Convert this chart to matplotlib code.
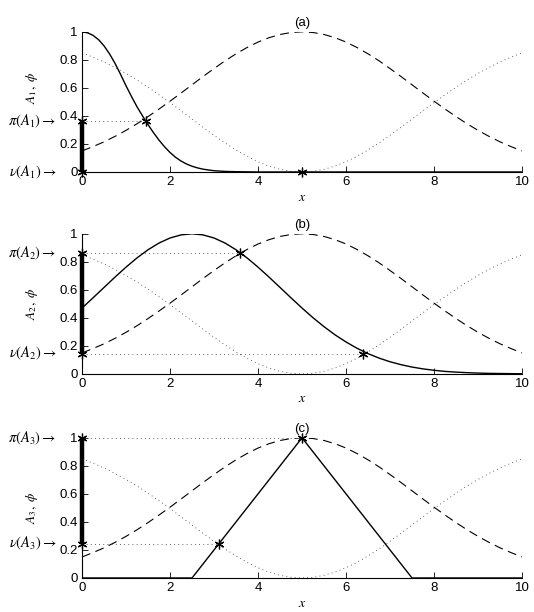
import matplotlib
matplotlib.use('Agg')
import matplotlib.pyplot as plt
import matplotlib.transforms as mtransforms

plt.rcParams['font.family'] = ['Liberation Sans', 'DejaVu Sans']
plt.rcParams['mathtext.fontset'] = 'stix'

# sample grid, step 0.25
x = [i * 0.25 for i in range(41)]

# reference fuzzy set phi (dashed) and its complement (dotted)
phi = [0.150, 0.181, 0.215, 0.254, 0.297, 0.344, 0.395, 0.449, 0.505, 0.563,
       0.622, 0.681, 0.738, 0.793, 0.843, 0.888, 0.927, 0.958, 0.981, 0.995,
       1.000, 0.995, 0.981, 0.958, 0.927, 0.888, 0.843, 0.793, 0.738, 0.681,
       0.622, 0.563, 0.505, 0.449, 0.395, 0.344, 0.297, 0.254, 0.215, 0.181,
       0.150]
not_phi = [0.850, 0.819, 0.785, 0.746, 0.703, 0.656, 0.605, 0.551, 0.495, 0.437,
           0.378, 0.319, 0.262, 0.207, 0.157, 0.112, 0.073, 0.042, 0.019, 0.005,
           0.000, 0.005, 0.019, 0.042, 0.073, 0.112, 0.157, 0.207, 0.262, 0.319,
           0.378, 0.437, 0.495, 0.551, 0.605, 0.656, 0.703, 0.746, 0.785, 0.819,
           0.850]

# A1 (solid, panel a) on a finer grid
a1_x = [0, 0.125, 0.25, 0.375, 0.5, 0.625, 0.75, 0.875, 1.0, 1.125, 1.25,
        1.375, 1.5, 1.625, 1.75, 1.875, 2.0, 2.125, 2.25, 2.375, 2.5, 2.625,
        2.75, 2.875, 3.0, 3.25, 3.5, 3.75, 4.0, 10.0]
a1 = [1.000, 0.993, 0.975, 0.944, 0.900, 0.843, 0.775, 0.697, 0.615, 0.538,
      0.465, 0.400, 0.338, 0.280, 0.227, 0.180, 0.139, 0.105, 0.078, 0.057,
      0.041, 0.029, 0.020, 0.014, 0.009, 0.004, 0.002, 0.001, 0.0, 0.0]
# A2 (solid, panel b)
a2 = [0.470, 0.543, 0.617, 0.691, 0.762, 0.828, 0.886, 0.934, 0.970, 0.992,
      1.000, 0.992, 0.970, 0.934, 0.886, 0.828, 0.762, 0.691, 0.617, 0.543,
      0.470, 0.401, 0.337, 0.279, 0.228, 0.183, 0.145, 0.113, 0.087, 0.066,
      0.049, 0.036, 0.026, 0.018, 0.013, 0.009, 0.006, 0.004, 0.003, 0.002,
      0.001]
# A3 triangle (panel c)
a3_x = [0, 2.5, 5, 7.5, 10]
a3_y = [0, 0, 1, 0, 0]

panels = ['(a)', '(b)', '(c)']
pi_vals = [0.365, 0.86, 1.0]
pi_x = [1.45, 3.59, 5.0]
nu_vals = [0.0, 0.145, 0.245]
nu_x = [5.0, 6.39, 3.12]
ylabels = [r'$A_1,\ \phi$', r'$A_2,\ \phi$', r'$A_3,\ \phi$']
pi_labels = [r'$\pi(A_1)\rightarrow$', r'$\pi(A_2)\rightarrow$', r'$\pi(A_3)\rightarrow$']
nu_labels = [r'$\nu(A_1)\rightarrow$', r'$\nu(A_2)\rightarrow$', r'$\nu(A_3)\rightarrow$']

fig = plt.figure(figsize=(5.34, 6.12), dpi=100)
bottoms = [0.719, 0.389, 0.0556]
axes = [fig.add_axes([0.1536, b, 0.824, 0.229]) for b in bottoms]

star = (6, 2, 0)  # asterisk, matlab style

for i, ax in enumerate(axes):
    ax.plot(x, phi, color='black', lw=0.8, dashes=(8, 5))
    ax.plot(x, not_phi, color='#333333', lw=0.6, linestyle=(0, (1, 4)))
    if i == 0:
        ax.plot(a1_x, a1, color='black', lw=1.0)
    elif i == 1:
        ax.plot(x, a2, color='black', lw=1.0)
    else:
        ax.plot(a3_x, a3_y, color='black', lw=1.0)

    # guide lines from the y axis to the intersection points
    ax.plot([0, pi_x[i]], [pi_vals[i], pi_vals[i]], color='#333333', lw=0.6,
            linestyle=(0, (1, 4)))
    ax.plot([0, nu_x[i]], [nu_vals[i], nu_vals[i]], color='#333333', lw=0.6,
            linestyle=(0, (1, 4)))
    ax.plot([0, 0], [nu_vals[i], pi_vals[i]], color='black', lw=3.2,
            solid_capstyle='butt', clip_on=False, zorder=5)
    ax.plot([0, pi_x[i], 0, nu_x[i]],
            [pi_vals[i], pi_vals[i], nu_vals[i], nu_vals[i]],
            linestyle='none', marker=star, color='black', markersize=7,
            markeredgewidth=0.9, clip_on=False, zorder=6)

    ax.set_xlim(0, 10)
    ax.set_ylim(0, 1)
    ax.set_xticks([0, 2, 4, 6, 8, 10])
    ax.set_yticks([0, 0.2, 0.4, 0.6, 0.8, 1])
    ax.set_yticklabels(['0', '0.2', '0.4', '0.6', '0.8', '1'])
    ax.spines['top'].set_visible(False)
    ax.spines['right'].set_visible(False)
    ax.spines['left'].set_linewidth(0.8)
    ax.spines['bottom'].set_linewidth(0.8)
    ax.tick_params(direction='in', length=4, width=0.6, labelsize=9.5, pad=3)
    ax.set_title(panels[i], fontsize=9.5, pad=4)
    ax.set_xlabel(r'$x$', fontsize=10, labelpad=1)
    ax.set_ylabel(ylabels[i], fontsize=9.5)
    ax.yaxis.set_label_coords(-0.095, 0.6 if i == 0 else 0.5)

    trans = mtransforms.blended_transform_factory(ax.transAxes, ax.transData)
    ax.text(-0.058, pi_vals[i], pi_labels[i], transform=trans, ha='right',
            va='center', fontsize=10.5)
    ax.text(-0.058, nu_vals[i], nu_labels[i], transform=trans, ha='right',
            va='center', fontsize=10.5)

fig.savefig('out.png', dpi=100)
